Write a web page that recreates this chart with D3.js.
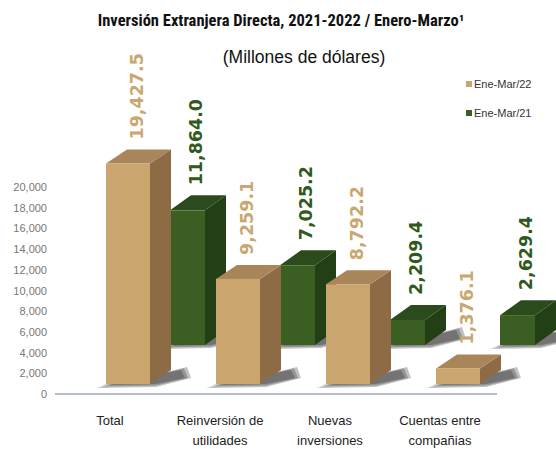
<!DOCTYPE html>
<html>
<head>
<meta charset="utf-8">
<script src="https://cdn.jsdelivr.net/npm/d3@7"></script>
<style>
  body { margin: 0; background: #fff; }
  svg { display: block; }
</style>
</head>
<body>
<div id="chart"></div>
<script>
// data
const categories = ["Total", "Reinversión de utilidades", "Nuevas inversiones", "Cuentas entre compañias"];
const catLines = [["Total"], ["Reinversión de", "utilidades"], ["Nuevas", "inversiones"], ["Cuentas entre", "compañias"]];
const serie22 = [19427.5, 9259.1, 8792.2, 1376.1];
const serie21 = [11864.0, 7025.2, 2209.4, 2629.4];
const seriesNames = ["Ene-Mar/22", "Ene-Mar/21"];
const yTicks = [0, 2000, 4000, 6000, 8000, 10000, 12000, 14000, 16000, 18000, 20000];

const width = 556, height = 449;
const fmt = d3.format(",.1f");

const svg = d3.select("#chart").append("svg")
    .attr("width", width)
    .attr("height", height);

// title
svg.append("text")
    .attr("x", 281).attr("y", 26)
    .attr("text-anchor", "middle")
    .style("font-family", "'Liberation Sans Narrow', 'Roboto Condensed', sans-serif")
    .style("font-weight", "bold")
    .style("font-size", "16.5px")
    .attr("fill", "#111")
    .text("Inversión Extranjera Directa, 2021-2022 / Enero-Marzo¹");

svg.append("text")
    .attr("x", 304).attr("y", 63)
    .attr("text-anchor", "middle")
    .style("font-family", "'Liberation Sans Narrow', sans-serif")
    .style("font-size", "17.5px")
    .attr("fill", "#111")
    .text("(Millones de dólares)");

// scales
const x = d3.scaleBand().domain(categories).range([55, 495]).padding(0);
const yAxisScale = d3.scaleLinear().domain([0, 20000]).range([394, 187]);
const hScale = d3.scaleLinear().domain([0, 20000]).range([0, 227]);

// y axis labels (back wall)
const yAxis = svg.append("g")
    .attr("transform", "translate(47,0)")
    .call(d3.axisLeft(yAxisScale).tickValues(yTicks).tickFormat(d3.format(",")).tickSize(0).tickPadding(0));
yAxis.select(".domain").remove();
yAxis.selectAll("text")
    .style("font-family", "'Liberation Sans Narrow', sans-serif")
    .style("font-size", "11px")
    .attr("fill", "#777");

// base line
svg.append("line")
    .attr("x1", 55).attr("x2", 497)
    .attr("y1", 394).attr("y2", 394)
    .attr("stroke", "#9aa8bb")
    .attr("stroke-width", 1.5);

// bar geometry per series
const rows = [
    {name: seriesNames[1], values: serie21, base: 345, off: 60, w: 35, dx: 21, dy: 15,
     front: "#3b5f22", side: "#233f16", top: "#2c4b1c", label: "#2f5a1c"},
    {name: seriesNames[0], values: serie22, base: 384, off: -4, w: 44, dx: 21, dy: 14,
     front: "#caa56d", side: "#8c6b45", top: "#a9855a", label: "#c9a770"}
];

rows.forEach(r => {
    const g = svg.append("g");
    const data = categories.map((c, i) => ({cat: c, value: r.values[i]}));

    // soft floor shadows: a few stacked translucent layers
    [6, 3, 0].forEach(s => {
        g.append("g")
            .selectAll("path")
            .data(data)
            .join("path")
            .attr("d", d => {
                const x0 = x(d.cat) + x.bandwidth() / 2 + r.off;
                const b = r.base;
                return `M${x0 - 4 - s},${b + 1 + s / 2} L${x0 + r.w + 6},${b + s / 2} L${x0 + r.w + r.dx + 14 + s},${b - 6} L${x0 + r.w + r.dx + 10 + s},${b - r.dy - s / 2} L${x0 + r.w},${b - 8} Z`;
            })
            .attr("fill", "#222")
            .attr("opacity", 0.28);
    });

    const bars = g.selectAll("g.bar")
        .data(data)
        .join("g")
        .attr("class", "bar");

    // side face
    bars.append("path")
        .attr("d", d => {
            const x1 = x(d.cat) + x.bandwidth() / 2 + r.off + r.w;
            const yt = r.base - hScale(d.value);
            return `M${x1},${r.base} L${x1 + r.dx},${r.base - r.dy} L${x1 + r.dx},${yt - r.dy} L${x1},${yt} Z`;
        })
        .attr("fill", r.side);

    // top face
    bars.append("path")
        .attr("d", d => {
            const x0 = x(d.cat) + x.bandwidth() / 2 + r.off;
            const yt = r.base - hScale(d.value);
            return `M${x0},${yt} L${x0 + r.dx},${yt - r.dy} L${x0 + r.w + r.dx},${yt - r.dy} L${x0 + r.w},${yt} Z`;
        })
        .attr("fill", r.top);

    // front face
    bars.append("rect")
        .attr("x", d => x(d.cat) + x.bandwidth() / 2 + r.off)
        .attr("y", d => r.base - hScale(d.value))
        .attr("width", r.w)
        .attr("height", d => hScale(d.value))
        .attr("fill", r.front);
});

// value labels
rows.forEach(r => {
    categories.forEach((c, i) => {
        const v = r.values[i];
        const cx = x(c) + x.bandwidth() / 2 + r.off + (r.w + r.dx) / 2 - 2;
        const yb = r.base - hScale(v) - r.dy - 10;
        svg.append("text")
            .attr("transform", `translate(${cx},${yb}) rotate(-90)`)
            .attr("dominant-baseline", "central")
            .style("font-family", "'DejaVu Sans', Verdana, sans-serif")
            .style("font-weight", "bold")
            .style("font-size", "17.5px")
            .attr("fill", r.label)
            .text(fmt(v));
    });
});

// category labels
const xl = svg.append("g");
categories.forEach((c, i) => {
    const t = xl.append("text")
        .attr("x", x(c) + x.bandwidth() / 2)
        .attr("y", 425)
        .attr("text-anchor", "middle")
        .style("font-family", "'Liberation Sans Narrow', sans-serif")
        .style("font-size", "13px")
        .attr("fill", "#222");
    catLines[i].forEach((line, j) => {
        t.append("tspan")
            .attr("x", x(c) + x.bandwidth() / 2)
            .attr("dy", j === 0 ? 0 : 20)
            .text(line);
    });
});

// legend
const legend = svg.append("g");
[rows[1], rows[0]].forEach((r, i) => {
    legend.append("rect")
        .attr("x", 466).attr("y", 81 + i * 29)
        .attr("width", 6).attr("height", 6)
        .attr("fill", r.front);
    legend.append("text")
        .attr("x", 474).attr("y", 84 + i * 29)
        .attr("dominant-baseline", "central")
        .style("font-family", "'Liberation Sans Narrow', sans-serif")
        .style("font-size", "11px")
        .attr("fill", "#333")
        .text(r.name);
});
</script>
</body>
</html>
